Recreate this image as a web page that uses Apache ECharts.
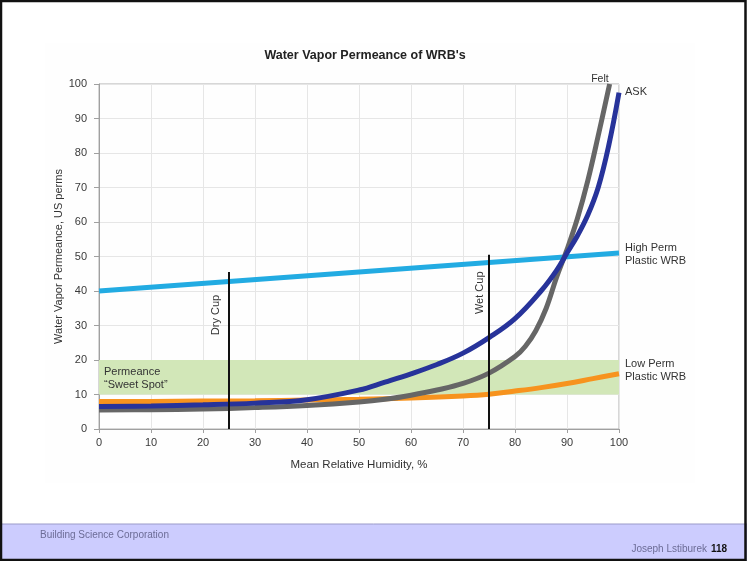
<!DOCTYPE html>
<html>
<head>
<meta charset="utf-8">
<script src="https://cdn.jsdelivr.net/npm/echarts@6/dist/echarts.min.js"></script>
<style>
html,body{margin:0;padding:0;background:#fff;}
#c{width:747px;height:561px;}
</style>
</head>
<body>
<div id="c"></div>
<script>
// ---- data ----
const titleText = "Water Vapor Permeance of WRB's";
const xTicks = [0,10,20,30,40,50,60,70,80,90,100];
const highPermX = [0, 100];
const highPermY = [40, 51];
const lowPermX = [0, 10, 20, 30, 40, 50, 60, 70, 75, 80, 85, 90, 95, 100];
const lowPermY = [8, 8, 8.1, 8.2, 8.4, 8.6, 9.0, 9.6, 10.1, 11, 12, 13.2, 14.6, 16];
const feltX = [0, 10, 20, 30, 40, 50, 55, 60, 65, 70, 75, 80, 82, 84, 86, 88, 90, 92, 94, 96, 98.2];
const feltY = [5.5, 5.6, 5.8, 6.2, 6.8, 7.8, 8.6, 9.8, 11.3, 13.2, 16.2, 21, 24, 28.5, 35, 44, 52, 61, 72, 85, 100];
const askX = [0, 10, 20, 30, 40, 50, 55, 60, 65, 70, 75, 80, 85, 88, 90, 92, 94, 96, 98, 100];
const askY = [6.5, 6.7, 7.0, 7.5, 8.5, 11.3, 13.6, 16, 18.7, 22, 26.5, 32, 40, 46, 51, 56, 62, 70, 82, 97.5];
const sweetSpot = [10, 20];
const dryCup = {x: 25, top: 45.5};
const wetCup = {x: 75, top: 50.5};

const pairs = (xs, ys) => xs.map((x, i) => [x, ys[i]]);
const font = "'Liberation Sans', Arial, Helvetica, sans-serif";

const chart = echarts.init(document.getElementById('c'), null, {renderer: 'canvas'});

const grid = {left: 99, top: 84, width: 520, height: 345};

const option = {
  animation: false,
  backgroundColor: '#ffffff',
  textStyle: {fontFamily: font},
  title: {
    text: titleText, left: 360, top: 44, textAlign: 'center',
    textStyle: {fontSize: 12.5, fontWeight: 'bold', color: '#222', fontFamily: font}
  },
  grid: Object.assign({show: true, borderColor: '#b0b0b0', borderWidth: 1, backgroundColor: 'transparent'}, grid),
  xAxis: {
    type: 'value', min: 0, max: 100, interval: 10,
    name: 'Mean Relative Humidity, %', nameLocation: 'middle', nameGap: 30,
    nameTextStyle: {fontSize: 11.5, color: '#333', fontFamily: font},
    axisLine: {lineStyle: {color: '#a0a0a0'}},
    axisTick: {show: true, length: 4, lineStyle: {color: '#a0a0a0'}},
    axisLabel: {fontSize: 11, color: '#3a3a3a', margin: 8, fontFamily: font},
    splitLine: {show: true, lineStyle: {color: '#e6e6e6'}}
  },
  yAxis: {
    type: 'value', min: 0, max: 100, interval: 10,
    name: 'Water Vapor Permeance, US perms', nameLocation: 'middle', nameGap: 35,
    nameMoveOverlap: false,
    nameTextStyle: {fontSize: 11, color: '#333', fontFamily: font},
    axisLine: {show: true, lineStyle: {color: '#a0a0a0'}},
    axisTick: {show: true, length: 5, lineStyle: {color: '#a0a0a0'}},
    axisLabel: {fontSize: 11, color: '#3a3a3a', margin: 12, fontFamily: font},
    splitLine: {show: true, lineStyle: {color: '#e6e6e6'}}
  },
  series: [
    {
      name: 'High Perm Plastic WRB', type: 'line', data: pairs(highPermX, highPermY),
      symbol: 'none', lineStyle: {color: '#22abe2', width: 5}, z: 3,
      markArea: {
        silent: true, itemStyle: {color: '#d2e7b8'},
        data: [[{yAxis: sweetSpot[0], xAxis: 0}, {yAxis: sweetSpot[1], xAxis: 100}]]
      }
    },
    {
      name: 'Low Perm Plastic WRB', type: 'line', data: pairs(lowPermX, lowPermY),
      symbol: 'none', smooth: 0.4, lineStyle: {color: '#f7931e', width: 5}, z: 4
    },
    {
      name: 'Felt', type: 'line', data: pairs(feltX, feltY),
      symbol: 'none', smooth: 0.4, lineStyle: {color: '#666666', width: 5}, z: 5
    },
    {
      name: 'ASK', type: 'line', data: pairs(askX, askY),
      symbol: 'none', smooth: 0.4, lineStyle: {color: '#27339a', width: 5}, z: 6
    },
    {
      name: 'Dry Cup', type: 'line', data: [[dryCup.x, 0], [dryCup.x, dryCup.top]],
      symbol: 'none', lineStyle: {color: '#111', width: 2}, z: 8
    },
    {
      name: 'Wet Cup', type: 'line', data: [[wetCup.x, 0], [wetCup.x, wetCup.top]],
      symbol: 'none', lineStyle: {color: '#111', width: 2}, z: 8
    }
  ]
};
chart.setOption(option);

function px(x, y) { return chart.convertToPixel({gridIndex: 0}, [x, y]); }

const lab = {fontSize: 11, fill: '#333', fontFamily: font};
const pFelt = px(feltX[feltX.length - 1], 100);
const pAsk = px(askX[askX.length - 1], askY[askY.length - 1]);
const pHigh = px(100, highPermY[highPermY.length - 1]);
const pLow = px(100, lowPermY[lowPermY.length - 1]);
const pSweet = px(0, (sweetSpot[0] + sweetSpot[1]) / 2);
const pDry = px(dryCup.x, dryCup.top);
const pWet = px(wetCup.x, wetCup.top);

chart.setOption({
  graphic: [
    // faint chart panel
    {type: 'rect', z: -10, silent: true, shape: {x: 45, y: 43, width: 650, height: 440}, style: {fill: '#fefefe'}},
    // footer band
    {type: 'rect', z: 1, silent: true, shape: {x: 0, y: 524, width: 747, height: 37}, style: {fill: '#ccccfe', stroke: '#9a9ac8', lineWidth: 1}},
    {type: 'text', z: 2, x: 40, y: 530, style: {text: 'Building Science Corporation', fontSize: 10, fill: '#6c6c96', fontFamily: font}},
    {type: 'text', z: 2, x: 707, y: 544, style: {text: 'Joseph Lstiburek', fontSize: 10, fill: '#6c6c96', fontFamily: font, align: 'right'}},
    {type: 'text', z: 2, x: 711, y: 544, style: {text: '118', fontSize: 10, fontWeight: 'bold', fill: '#111', fontFamily: font}},
    // slide border
    {type: 'rect', z: 20, silent: true, shape: {x: 1, y: 1, width: 744.5, height: 559}, style: {fill: 'none', stroke: '#111', lineWidth: 2.5}},
    // annotations
    {type: 'text', z: 10, x: pFelt[0] - 1, y: pFelt[1] - 5, style: Object.assign({text: 'Felt', align: 'right', verticalAlign: 'middle'}, lab, {fontSize: 10.5})},
    {type: 'text', z: 10, x: pAsk[0] + 6, y: pAsk[1] - 1, style: Object.assign({text: 'ASK', verticalAlign: 'middle'}, lab)},
    {type: 'text', z: 10, x: pHigh[0] + 6, y: pHigh[1] + 1, style: Object.assign({text: 'High Perm\nPlastic WRB', verticalAlign: 'middle', lineHeight: 13}, lab)},
    {type: 'text', z: 10, x: pLow[0] + 6, y: pLow[1] - 3, style: Object.assign({text: 'Low Perm\nPlastic WRB', verticalAlign: 'middle', lineHeight: 13}, lab)},
    {type: 'text', z: 10, x: pSweet[0] + 5, y: pSweet[1] + 1, style: Object.assign({text: 'Permeance\n\u201cSweet Spot\u201d', verticalAlign: 'middle', lineHeight: 13}, lab)},
    {type: 'text', z: 10, x: pDry[0] - 13, y: pDry[1] + 43, rotation: Math.PI / 2, style: Object.assign({text: 'Dry Cup', align: 'center', verticalAlign: 'middle'}, lab)},
    {type: 'text', z: 10, x: pWet[0] - 9, y: pWet[1] + 38, rotation: Math.PI / 2, style: Object.assign({text: 'Wet Cup', align: 'center', verticalAlign: 'middle'}, lab)}
  ]
});
</script>
</body>
</html>
